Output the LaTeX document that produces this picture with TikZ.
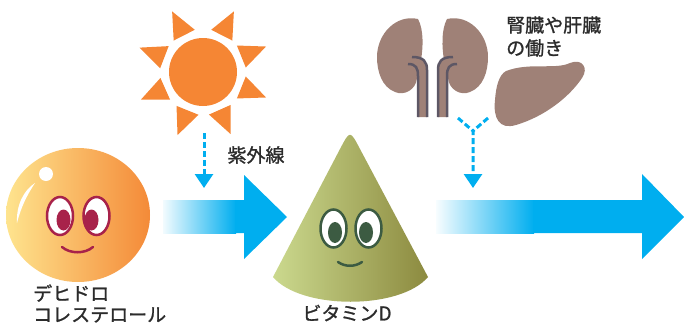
\documentclass[tikz,border=0pt]{standalone}
\usepackage{fontspec}
\newfontfamily\jpfont{Noto Sans CJK JP}[FakeBold=1.2]
\usetikzlibrary{arrows.meta,calc}
\definecolor{vitblue}{HTML}{00AEEF}
\definecolor{sunorange}{HTML}{F58634}
\definecolor{chollight}{HTML}{FEE48E}
\definecolor{choldark}{HTML}{F48A38}
\definecolor{cholline}{HTML}{A8224A}
\definecolor{conelight}{HTML}{CBD98E}
\definecolor{conedark}{HTML}{8C8A3F}
\definecolor{coneline}{HTML}{3C5B42}
\definecolor{organ}{HTML}{9F8177}
\definecolor{tubeline}{HTML}{5D5765}
\definecolor{txtgrey}{HTML}{2B2B2B}

% one kidney with its ureter, mirrored for the other side
\tikzset{kidney/.pic={
  \fill[organ] (418,19) .. controls (424,30) and (423,48) .. (421,60) -- (417,78)
    .. controls (416,90) and (404,96) .. (395,92) .. controls (382,87) and (377,72) .. (377,57)
    .. controls (377,34) and (396,14) .. (418,19) -- cycle;
  \fill[organ] (408,64) .. controls (416,64) and (418,68) .. (418,76) -- (418,117) -- (427,117)
    -- (427,70) .. controls (427,62) and (424,57) .. (412,57) -- cycle;
  \draw[tube] (408,64) .. controls (416,64) and (418,68) .. (418,76) -- (418,117);
  \draw[tube] (412,57) .. controls (424,57) and (427,62) .. (427,70) -- (427,117);
}}

\begin{document}
\begin{tikzpicture}[x=1pt,y=-1pt,
  every node/.style={font=\jpfont\fontsize{19}{21}\selectfont,text=txtgrey,inner sep=0pt},
  lbl/.style={align=left},
  tube/.style={tubeline,line width=2.5pt},
  uvdash/.style={vitblue,line width=3pt,dash pattern=on 6pt off 3pt},
  uvarrow/.style={uvdash,-{Triangle[length=14pt,width=18pt]}},
  eyeball/.style={fill=white,line width=2.5pt},
  mouth/.style={line width=2.5pt,line cap=round}
]
\useasboundingbox (0,0) rectangle (684,324);

% big arrows
\shade[left color=vitblue!5,right color=vitblue] (163,200) rectangle (236,233);
\fill[vitblue] (235,200) -- (244,200) -- (244,175) -- (287,217) -- (244,259) -- (244,233) -- (235,233) -- cycle;
\shade[left color=vitblue!3,right color=vitblue] (436,200) rectangle (534,233);
\fill[vitblue] (533,200) -- (642,200) -- (642,174) -- (684,217) -- (642,259) -- (642,233) -- (533,233) -- cycle;

% sun
\begin{scope}[shift={(203,72)}]
  \fill[sunorange] (0,0) circle [radius=34];
  \foreach \a in {22,63,117,159,204,248,294,338}
    \fill[sunorange] (-\a-16:43) -- (-\a:68) -- (-\a+16:43) -- cycle;
\end{scope}

% cholesterol
\shade[left color=chollight,right color=choldark] (78,215) ellipse [x radius=72,y radius=67];
\fill[white] (46,174) circle [radius=7];
\fill[white] (35,183) .. controls (24,190) and (16,205) .. (17,223) .. controls (21,207) and (27,195) .. (35,183) -- cycle;
\draw[eyeball,draw=cholline] (60,216) ellipse [x radius=13,y radius=19];
\draw[eyeball,draw=cholline] (96.5,216) ellipse [x radius=13,y radius=19];
\fill[cholline] (63.5,220) ellipse [x radius=7,y radius=10.5];
\fill[cholline] (91.5,220) ellipse [x radius=7,y radius=10.5];
\draw[mouth,cholline] (62,247) .. controls (70,254) and (85,254) .. (93,247);

% vitamin D cone
\shade[left color=conelight,right color=conedark] (273,277) -- (340,149) .. controls (350,130) .. (360,149)
  -- (428,277) .. controls (400,310) and (301,310) .. (273,277) -- cycle;
\draw[eyeball,draw=coneline] (333.5,228.5) ellipse [x radius=13,y radius=19];
\draw[eyeball,draw=coneline] (368.5,228.5) ellipse [x radius=13,y radius=19];
\fill[coneline] (335,232.5) ellipse [x radius=7,y radius=10.5];
\fill[coneline] (366,232.5) ellipse [x radius=7,y radius=10.5];
\draw[mouth,coneline] (338,262) .. controls (345,267) and (355,267) .. (362,262);

% kidneys and liver
\pic at (0,0) {kidney};
\pic[xscale=-1] at (865,0) {kidney};
\fill[organ] (506,71) .. controls (530,62) and (555,70) .. (570,63) .. controls (582,58) and (589,68) .. (582,78)
  .. controls (570,96) and (546,116) .. (516,125) .. controls (499,130) and (493,118) .. (495,100)
  .. controls (496,86) and (499,75) .. (506,71) -- cycle;

% dashed arrows
\coordinate (uvtop) at (204,133);
\coordinate (uvend) at (204,188);
\draw[uvarrow] (uvtop) -- (uvend);
\coordinate (ylk) at (458,118);
\coordinate (ylv) at (488,118);
\coordinate (yjoin) at (473,131);
\coordinate (yend) at (473,188);
\draw[uvarrow] (ylk) -- (yjoin) -- (yend);
\draw[uvdash] (ylv) -- (yjoin);

% labels
\node[lbl,anchor=west] (dhc) at (33,303.5) {デヒドロ\\コレステロール};
\node (vitd) at (347,313) {ビタミンD};
\node (uvlabel) at (256,155) {紫外線};
\node[lbl,anchor=west,font=\jpfont\fontsize{19}{23}\selectfont] (organlabel) at (506,36.5) {腎臓や肝臓\\の働き};
\end{tikzpicture}
\end{document}
